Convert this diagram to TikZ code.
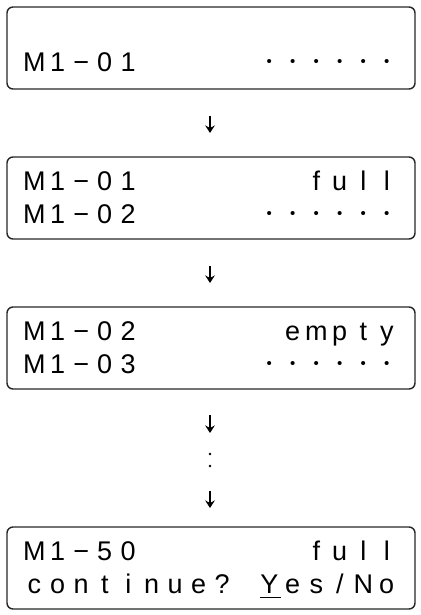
\documentclass[tikz,border=0pt]{standalone}
\usepackage{fontspec}
\setmainfont{Liberation Sans}
\usetikzlibrary{arrows.meta}
\begin{document}
\begin{tikzpicture}[x=1pt,y=-1pt,
  lcdbox/.style={draw=black!85,line width=1.4pt,rounded corners=6pt,minimum width=408pt,minimum height=82pt,inner sep=0pt},
  ch/.style={anchor=base,inner sep=0pt,font=\fontsize{27}{27}\selectfont},
  dn/.style={line width=1.9pt,-{Stealth[length=7.5pt,width=9.5pt]}},
  dotc/.style={fill=black,draw=none,circle,inner sep=0pt,minimum size=2.6pt}]
\useasboundingbox (0,0) rectangle (420,615);
\newcommand\lcdrow[4]{\foreach \ch [count=\k from #2] in {#4} {\node[ch] (#1c\k) at ({22.5+23.5*(\k+0.5)},#3) {\ch};}}
\newcommand\lcddots[3]{\foreach \k in {#2,...,15} {\node[ch] (#1c\k) at ({22.5+23.5*(\k+0.5)},#3) {\raisebox{5pt}{\fontsize{15}{15}\selectfont •}};}}
% boxes
\node[lcdbox] (box1) at (211,48) {};
\node[lcdbox] (box2) at (211,198) {};
\node[lcdbox] (box3) at (211,348) {};
\node[lcdbox] (box4) at (211,568) {};
% box 1
\lcdrow{bA}{0}{72}{M,1,−,0,1}
\lcddots{bB}{10}{72}
% box 2
\lcdrow{bC}{0}{190}{M,1,−,0,1}
\lcdrow{bD}{12}{190}{f,u,l,l}
\lcdrow{bE}{0}{223}{M,1,−,0,2}
\lcddots{bF}{10}{223}
% box 3
\lcdrow{bG}{0}{340}{M,1,−,0,2}
\lcdrow{bH}{11}{340}{e,m,p,t,y}
\lcdrow{bI}{0}{373}{M,1,−,0,3}
\lcddots{bJ}{10}{373}
% box 4
\lcdrow{bK}{0}{560}{M,1,−,5,0}
\lcdrow{bL}{12}{560}{f,u,l,l}
\lcdrow{bM}{0}{593}{c,o,n,t,i,n,u,e,?}
\lcdrow{bN}{10}{593}{Y,e,s,/,N,o}
\coordinate (ulA) at (260,597.5);
\coordinate (ulB) at (281,597.5);
\draw[line width=1.4pt] (ulA) -- (ulB);
% arrows
\coordinate (a1s) at (210,116); \coordinate (a1e) at (210,133);
\coordinate (a2s) at (210,266); \coordinate (a2e) at (210,283);
\coordinate (a3s) at (210,415); \coordinate (a3e) at (210,433);
\coordinate (a4s) at (210,491); \coordinate (a4e) at (210,508);
\draw[dn] (a1s) -- (a1e);
\draw[dn] (a2s) -- (a2e);
\draw[dn] (a3s) -- (a3e);
\draw[dn] (a4s) -- (a4e);
\node[dotc] (d1) at (210,454) {};
\node[dotc] (d2) at (210,466) {};
\end{tikzpicture}
\end{document}
